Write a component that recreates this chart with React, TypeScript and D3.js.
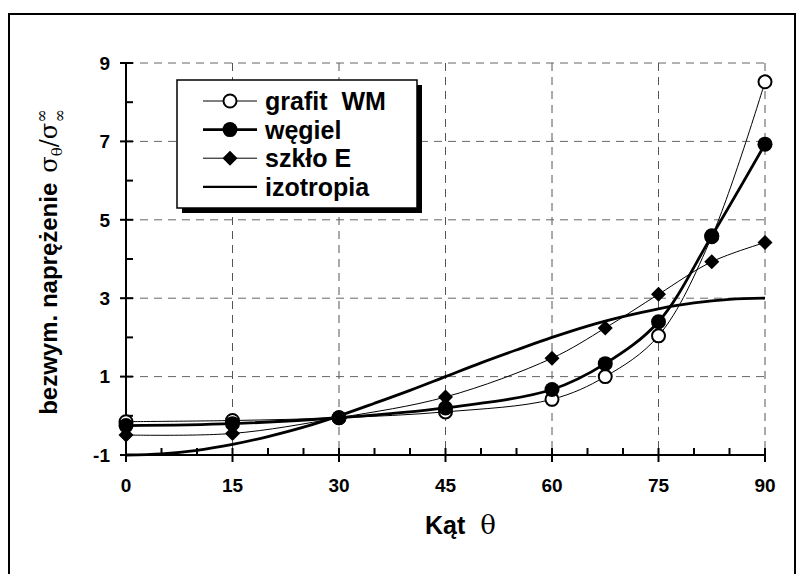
import React from "react";
import * as d3 from "d3";

// kąty pomiarowe
const angles = [0, 15, 30, 45, 60, 67.5, 75, 82.5, 90];
const grafitWM = [-0.15, -0.12, -0.05, 0.1, 0.42, 1.0, 2.04, 4.57, 8.52];
const wegiel = [-0.25, -0.2, -0.05, 0.2, 0.67, 1.33, 2.4, 4.59, 6.93];
const szkloE = [-0.49, -0.45, -0.05, 0.48, 1.47, 2.24, 3.1, 3.93, 4.42];

// izotropia - odczyt co 5 stopni
const isoAngles = [0, 5, 10, 15, 20, 25, 30, 35, 40, 45, 50, 55, 60, 65, 70, 75, 80, 85, 90];
const isoValues = [-1, -0.97, -0.88, -0.73, -0.53, -0.29, 0, 0.32, 0.65, 1, 1.35, 1.68, 2, 2.29, 2.53, 2.73, 2.88, 2.97, 3];

const xTicks = [0, 15, 30, 45, 60, 75, 90];
const xMinor = [5, 10, 20, 25, 35, 40, 50, 55, 65, 70, 80, 85];
const yTicks = [-1, 1, 3, 5, 7, 9];
const yMinor = [0, 2, 4, 6, 8];

const legendLabels = ["grafit  WM", "węgiel", "szkło E", "izotropia"];

const FONT = "'Liberation Sans', Arial, sans-serif";

const x = d3.scaleLinear().domain([0, 90]).range([126, 765]);
const y = d3.scaleLinear().domain([-1, 9]).range([455, 63]);

const toPts = (xs: number[], ys: number[]) => xs.map((a, i) => [a, ys[i]] as [number, number]);

const smooth = d3
  .line<[number, number]>()
  .x((d) => x(d[0]))
  .y((d) => y(d[1]))
  .curve(d3.curveCatmullRom.alpha(0.5));

const isoLine = d3
  .line<[number, number]>()
  .x((d) => x(d[0]))
  .y((d) => y(d[1]))
  .curve(d3.curveMonotoneX);

const diamond = (cx: number, cy: number, r: number) =>
  `M${cx},${cy - r}L${cx + r},${cy}L${cx},${cy + r}L${cx - r},${cy}Z`;

function App() {
  const W = 798;
  const H = 574;
  const lx = 177;
  const ly = 80;
  const lw = 240;
  const lh = 128;
  const rowY = (i: number) => 101 + i * 28.6;

  return (
    <svg width={W} height={H} style={{ position: "absolute", left: 0, top: 0 }}>
      <rect x={0} y={0} width={W} height={H} fill="white" />
      <rect x={9} y={14} width={786} height={600} fill="none" stroke="black" strokeWidth={2} />

      {/* siatka */}
      {yTicks.filter((v) => v > -1).map((v) => (
        <line key={"gy" + v} x1={x(0)} x2={x(90)} y1={y(v)} y2={y(v)} stroke="#666" strokeWidth={1} strokeDasharray="8,6" />
      ))}
      {xTicks.filter((v) => v > 0).map((v) => (
        <line key={"gx" + v} x1={x(v)} x2={x(v)} y1={y(9)} y2={y(-1)} stroke="#555" strokeWidth={1} strokeDasharray="8,6" />
      ))}

      {/* osie */}
      <line x1={x(0)} x2={x(0)} y1={y(9)} y2={y(-1)} stroke="black" strokeWidth={2} />
      <line x1={x(0)} x2={x(90)} y1={y(-1)} y2={y(-1)} stroke="black" strokeWidth={2} />
      {yTicks.map((v) => (
        <g key={"yt" + v}>
          <line x1={x(0) - 6} x2={x(0) + 7} y1={y(v)} y2={y(v)} stroke="black" strokeWidth={2} />
          <text x={110} y={y(v)} dy="0.36em" textAnchor="end" fontFamily={FONT} fontWeight="bold" fontSize={19}>
            {v}
          </text>
        </g>
      ))}
      {yMinor.map((v) => (
        <line key={"ym" + v} x1={x(0)} x2={x(0) + 7} y1={y(v)} y2={y(v)} stroke="black" strokeWidth={2} />
      ))}
      {xTicks.map((v) => (
        <g key={"xt" + v}>
          <line x1={x(v)} x2={x(v)} y1={y(-1) - 7} y2={y(-1) + 7} stroke="black" strokeWidth={2} />
          <text x={x(v)} y={492} textAnchor="middle" fontFamily={FONT} fontWeight="bold" fontSize={19}>
            {v}
          </text>
        </g>
      ))}
      {xMinor.map((v) => (
        <line key={"xm" + v} x1={x(v)} x2={x(v)} y1={y(-1) - 7} y2={y(-1)} stroke="black" strokeWidth={2} />
      ))}

      {/* tytuły osi */}
      <text x={425} y={534} fontFamily={FONT} fontWeight="bold" fontSize={25}>
        Kąt{"  "}
        <tspan fontFamily="'DejaVu Serif', serif" fontWeight="normal" fontSize={26} dx={8}>θ</tspan>
      </text>
      <text transform="translate(57,262) rotate(-90)" textAnchor="middle" fontFamily={FONT} fontWeight="bold" fontSize={24}>
        bezwym. naprężenie
        <tspan dx={10} fontFamily="'DejaVu Serif', serif" fontWeight="normal">σ</tspan>
        <tspan fontFamily="'DejaVu Serif', serif" fontWeight="normal" fontSize={15} dy={5}>θ</tspan>
        <tspan fontFamily="'DejaVu Serif', serif" fontWeight="normal" dy={-5}>/σ</tspan>
        <tspan fontFamily="'DejaVu Serif', serif" fontWeight="normal" fontSize={16} dy={-10}>∞</tspan>
        <tspan fontFamily="'DejaVu Serif', serif" fontWeight="normal" fontSize={16} dx={-13} dy={18}>∞</tspan>
      </text>

      {/* serie */}
      <path d={isoLine(toPts(isoAngles, isoValues)) || ""} fill="none" stroke="black" strokeWidth={2.8} />
      <path d={smooth(toPts(angles, szkloE)) || ""} fill="none" stroke="black" strokeWidth={1} />
      <path d={smooth(toPts(angles, grafitWM)) || ""} fill="none" stroke="black" strokeWidth={1} />
      <path d={smooth(toPts(angles, wegiel)) || ""} fill="none" stroke="black" strokeWidth={2.8} />
      {angles.map((a, i) => (
        <path key={"d" + a} d={diamond(x(a), y(szkloE[i]), 7.5)} fill="black" />
      ))}
      {angles.map((a, i) => (
        <circle key={"g" + a} cx={x(a)} cy={y(grafitWM[i])} r={6.5} fill="white" stroke="black" strokeWidth={2} />
      ))}
      {angles.map((a, i) => (
        <circle key={"w" + a} cx={x(a)} cy={y(wegiel[i])} r={7.5} fill="black" />
      ))}

      {/* legenda */}
      <rect x={lx + 5} y={ly + 5} width={lw} height={lh} fill="black" />
      <rect x={lx} y={ly} width={lw} height={lh} fill="white" stroke="black" strokeWidth={1.5} />
      {legendLabels.map((lab, i) => (
        <g key={lab}>
          <line x1={203} x2={257} y1={rowY(i)} y2={rowY(i)} stroke="black" strokeWidth={i === 1 ? 2.8 : i === 3 ? 2.2 : 1} />
          {i === 0 && <circle cx={230} cy={rowY(i)} r={6.5} fill="white" stroke="black" strokeWidth={2} />}
          {i === 1 && <circle cx={230} cy={rowY(i)} r={7.5} fill="black" />}
          {i === 2 && <path d={diamond(230, rowY(i), 7.5)} fill="black" />}
          <text x={265} y={rowY(i)} dy="0.36em" fontFamily={FONT} fontWeight="bold" fontSize={25} style={{ whiteSpace: "pre" }}>
            {lab}
          </text>
        </g>
      ))}
    </svg>
  );
}

export default App;
